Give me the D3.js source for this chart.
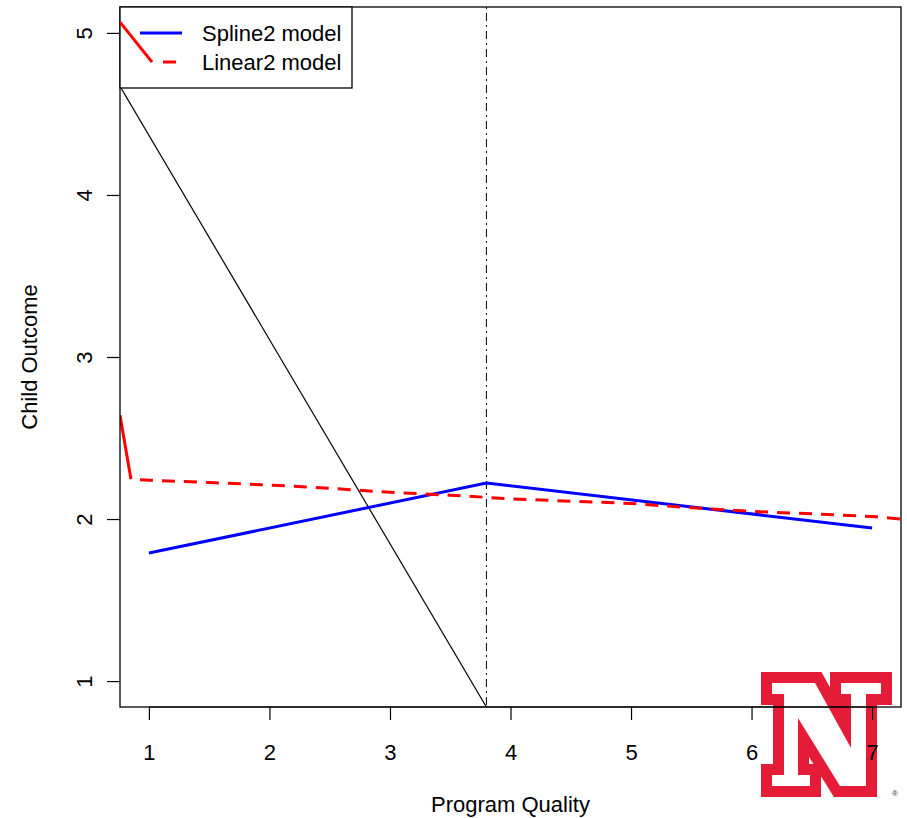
<!DOCTYPE html>
<html>
<head>
<meta charset="utf-8">
<script src="https://cdn.jsdelivr.net/npm/d3@7"></script>
<style>
  body { margin: 0; background: #fff; }
  svg { display: block; font-family: Arial, "Liberation Sans", sans-serif; }
</style>
</head>
<body>
<div id="chart"></div>
<script>
const W = 907, H = 818
const PLOT = { LEFT: 120, RIGHT: 901, TOP: 7, BOTTOM: 707 }

// data
const xTicks = [1, 2, 3, 4, 5, 6, 7]
const yTicks = [1, 2, 3, 4, 5]
const knot = 3.8

const splineX = [1, 3.8, 7]
const splineY = [1.79, 2.222, 1.945]

const linearX = [0.851, 1.0, 1.5, 2.0, 2.5, 3.0, 3.5, 4.0, 4.5, 5.0, 5.5, 6.0, 6.5, 7.0, 7.24]
const linearY = [2.246, 2.24, 2.225, 2.21, 2.19, 2.165, 2.147, 2.125, 2.11, 2.096, 2.07, 2.047, 2.032, 2.015, 2.0]

const refLineX = [0.76, 3.8]
const refLineY = [4.67, 0.84]

const stubTopX = [0.76, 1.026]
const stubTopY = [5.067, 4.82]
const stubLeftX = [0.76, 0.851]
const stubLeftY = [2.64, 2.246]

const legendLabels = ['Spline2 model', 'Linear2 model']

const svg = d3.select('#chart').append('svg')
  .attr('width', W)
  .attr('height', H)

const x = d3.scaleLinear().domain([0.76, 7.24]).range([PLOT.LEFT, PLOT.RIGHT])
const y = d3.scaleLinear().domain([0.84, 5.16]).range([PLOT.BOTTOM, PLOT.TOP])

const line = d3.line().x(d => x(d[0])).y(d => y(d[1]))
const pts = (xs, ys) => xs.map((v, i) => [v, ys[i]])

svg.append('clipPath').attr('id', 'clip')
  .append('rect')
    .attr('x', PLOT.LEFT).attr('y', PLOT.TOP)
    .attr('width', PLOT.RIGHT - PLOT.LEFT).attr('height', PLOT.BOTTOM - PLOT.TOP)

// logo (behind everything)
const logo = svg.append('g').attr('class', 'logo')
const nGlyph = [
  [772, 683], [815, 683], [851, 748], [851, 694], [841, 694], [841, 683], [881, 683],
  [881, 694], [866, 694], [866, 786], [840, 786], [798, 718], [798, 775], [810, 775],
  [810, 786], [772, 786], [772, 775], [784, 775], [784, 694], [772, 694]
]
logo.append('path')
  .attr('d', 'M' + nGlyph.map(p => p.join(',')).join('L') + 'Z')
  .attr('fill', '#fff')
  .attr('stroke', '#e41c38')
  .attr('stroke-width', 22)
  .attr('stroke-linejoin', 'miter')
  .attr('stroke-miterlimit', 4)
  .attr('paint-order', 'stroke')
logo.append('text')
  .attr('x', 895).attr('y', 796)
  .attr('font-size', 8)
  .attr('text-anchor', 'middle')
  .attr('fill', '#333')
  .text('®')

const plot = svg.append('g').attr('clip-path', 'url(#clip)')

plot.append('path')
  .attr('d', line(pts(refLineX, refLineY)))
  .attr('fill', 'none').attr('stroke', '#000').attr('stroke-width', 1.2)

plot.append('line')
  .attr('x1', x(knot)).attr('x2', x(knot))
  .attr('y1', PLOT.TOP).attr('y2', PLOT.BOTTOM)
  .attr('stroke', '#000').attr('stroke-width', 1)
  .attr('stroke-dasharray', '2,4,8,4')

plot.append('path')
  .attr('d', line(pts(splineX, splineY)))
  .attr('fill', 'none').attr('stroke', '#0000ff').attr('stroke-width', 3)

plot.append('path')
  .attr('d', line(pts(linearX, linearY)))
  .attr('fill', 'none').attr('stroke', '#ff0000').attr('stroke-width', 3)
  .attr('stroke-dasharray', '13,9').attr('stroke-dashoffset', 13)

plot.append('path')
  .attr('d', line(pts(stubLeftX, stubLeftY)))
  .attr('fill', 'none').attr('stroke', '#ff0000').attr('stroke-width', 3)

// axes
const xAxis = svg.append('g')
  .attr('transform', `translate(0, ${PLOT.BOTTOM})`)
  .call(d3.axisBottom(x).tickValues(xTicks).tickFormat(d3.format('d')).tickSize(13))
const yAxis = svg.append('g')
  .attr('transform', `translate(${PLOT.LEFT}, 0)`)
  .call(d3.axisLeft(y).tickValues(yTicks).tickFormat(d3.format('d')).tickSize(13))
;[xAxis, yAxis].forEach(g => {
  g.select('.domain').remove()
  g.selectAll('line').attr('stroke', '#000').attr('stroke-width', 1.2)
  g.selectAll('text').attr('font-size', 22).attr('fill', '#000').attr('font-family', 'Arial, "Liberation Sans", sans-serif')
})
xAxis.selectAll('text').attr('y', 53).attr('dy', null)
yAxis.selectAll('text')
  .attr('dy', null)
  .attr('x', 0)
  .attr('y', -28)
  .attr('text-anchor', 'middle')
  .attr('transform', 'rotate(-90)')

svg.append('line')
  .attr('x1', x(xTicks[0])).attr('x2', x(xTicks[xTicks.length - 1]))
  .attr('y1', PLOT.BOTTOM).attr('y2', PLOT.BOTTOM)
  .attr('stroke', '#000')

svg.append('rect')
  .attr('x', PLOT.LEFT).attr('y', PLOT.TOP)
  .attr('width', PLOT.RIGHT - PLOT.LEFT).attr('height', PLOT.BOTTOM - PLOT.TOP)
  .attr('fill', 'none').attr('stroke', '#000').attr('stroke-width', 1.3)

svg.append('text')
  .attr('x', (PLOT.LEFT + PLOT.RIGHT) / 2).attr('y', 812)
  .attr('font-size', 22).attr('text-anchor', 'middle')
  .text('Program Quality')

svg.append('text')
  .attr('transform', `translate(37, ${(PLOT.TOP + PLOT.BOTTOM) / 2}) rotate(-90)`)
  .attr('font-size', 22).attr('text-anchor', 'middle')
  .text('Child Outcome')

// legend
const legend = svg.append('g')
legend.append('rect')
  .attr('x', 120).attr('y', 7).attr('width', 232).attr('height', 81)
  .attr('fill', '#fff').attr('stroke', '#000').attr('stroke-width', 1.3)
legend.append('line')
  .attr('x1', 140).attr('x2', 182).attr('y1', 33).attr('y2', 33)
  .attr('stroke', '#0000ff').attr('stroke-width', 3)
legend.append('line')
  .attr('x1', 163).attr('x2', 176).attr('y1', 62).attr('y2', 62)
  .attr('stroke', '#ff0000').attr('stroke-width', 3)
legend.selectAll('text.lab')
  .data(legendLabels)
  .enter().append('text')
    .attr('class', 'lab')
    .attr('x', 202)
    .attr('y', (d, i) => 41 + i * 29)
    .attr('font-size', 22)
    .text(d => d)

svg.append('g').attr('clip-path', 'url(#clip)')
  .append('path')
    .attr('d', line(pts(stubTopX, stubTopY)))
    .attr('fill', 'none').attr('stroke', '#ff0000').attr('stroke-width', 3)
</script>
</body>
</html>
